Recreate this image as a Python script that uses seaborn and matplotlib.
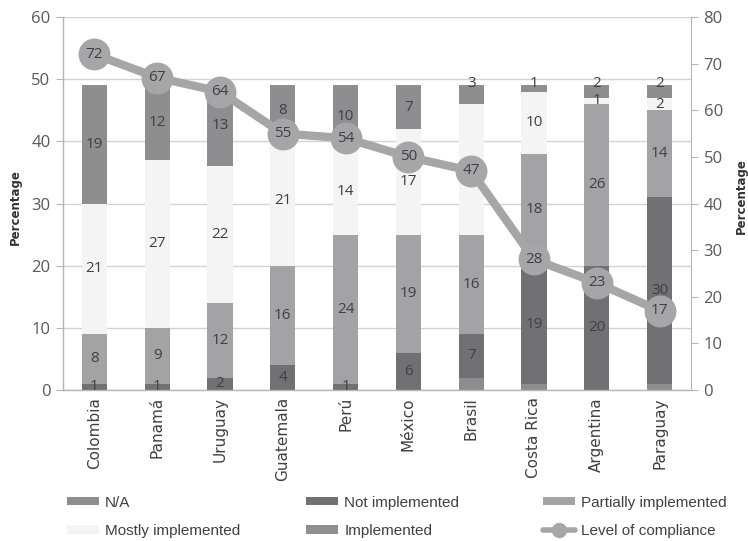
import numpy as np
import pandas as pd
import matplotlib
matplotlib.use("Agg")
import matplotlib.pyplot as plt
from matplotlib.patches import Patch
from matplotlib.lines import Line2D
import seaborn as sns

countries = ["Colombia", "Panamá", "Uruguay", "Guatemala", "Perú",
             "México", "Brasil", "Costa Rica", "Argentina", "Paraguay"]
na = [0, 0, 0, 0, 0, 0, 2, 1, 0, 1]
not_impl = [1, 1, 2, 4, 1, 6, 7, 19, 20, 30]
partial = [8, 9, 12, 16, 24, 19, 16, 18, 26, 14]
mostly = [21, 27, 22, 21, 14, 17, 21, 10, 1, 2]
impl = [19, 12, 13, 8, 10, 7, 3, 1, 2, 2]
compliance = [72, 67, 64, 55, 54, 50, 47, 28, 23, 17]

series_names = ["N/A", "Not implemented", "Partially implemented",
                "Mostly implemented", "Implemented"]
series_vals = [na, not_impl, partial, mostly, impl]
colors = ["#8d8d90", "#717174", "#a3a3a6", "#f4f4f4", "#8e8e91"]
line_color = "#a6a6a9"
text_color = "#404040"
num_font = "Open Sans"

sns.set_style("white")
plt.rcParams["font.family"] = ["DejaVu Sans"]

fig = plt.figure(figsize=(7.48, 5.41), dpi=100)
ax = fig.add_axes([0.0842, 0.279, 0.8396, 0.6896])

# stacked bars: draw cumulative totals from the top layer down
stack = np.cumsum(np.array(series_vals), axis=0)
for k in range(len(series_vals) - 1, -1, -1):
    df = pd.DataFrame({"country": countries, "value": stack[k]})
    sns.barplot(data=df, x="country", y="value", color=colors[k],
                saturation=1, width=0.4, linewidth=0, ax=ax, zorder=2)

# segment labels (N/A not labelled)
for k in range(1, len(series_vals)):
    for i, v in enumerate(series_vals[k]):
        if v == 0:
            continue
        lo = stack[k][i] - v
        y = lo + v / 2
        if k == len(series_vals) - 1 and v <= 3:
            y = stack[k][i] + 0.3
        ax.text(i, y, str(v), ha="center", va="center", fontsize=11,
                color=text_color, family=num_font, zorder=3)

ax.set_ylim(0, 60)
ax.set_xlim(-0.5, len(countries) - 0.5)
ax.set_yticks(range(0, 61, 10))
ax.yaxis.grid(True, color="#d3d3d3", linewidth=1)
ax.set_axisbelow(True)
ax.set_xlabel("")
ax.set_ylabel("Percentage", fontsize=8.5, fontweight="bold", color="#333333")
ax.yaxis.set_label_coords(-0.066, 0.49)

for s in ["top", "right"]:
    ax.spines[s].set_visible(False)
for s in ["left", "bottom"]:
    ax.spines[s].set_color("#b5b5b5")
    ax.spines[s].set_linewidth(1)

ax.tick_params(axis="y", length=5, color="#b5b5b5", labelsize=12,
               labelcolor="#595959", pad=4)
for lab in ax.get_yticklabels():
    lab.set_family(num_font)
ax.tick_params(axis="x", which="major", length=0, labelsize=11,
               labelcolor=text_color, pad=5, labelrotation=90)
ax.set_xticks(np.arange(len(countries) + 1) - 0.5, minor=True)
ax.tick_params(axis="x", which="minor", length=5, color="#b5b5b5")

# compliance line on the secondary axis
ax2 = ax.twinx()
sns.lineplot(x=countries, y=compliance, ax=ax2, color=line_color,
             linewidth=6, marker="o", markersize=23, markeredgewidth=0,
             sort=False, zorder=4)
for i, v in enumerate(compliance):
    ax2.text(i, v, str(v), ha="center", va="center", fontsize=11,
             color=text_color, family=num_font, zorder=5)
ax2.set_ylim(0, 80)
ax2.set_yticks(range(0, 81, 10))
ax2.set_xlim(-0.5, len(countries) - 0.5)
ax2.set_ylabel("Percentage", fontsize=8.5, fontweight="bold", color="#333333")
ax2.yaxis.set_label_coords(1.07, 0.52)
for s in ["top", "left", "bottom"]:
    ax2.spines[s].set_visible(False)
ax2.spines["right"].set_color("#b5b5b5")
ax2.tick_params(axis="y", length=5, color="#b5b5b5", labelsize=12,
                labelcolor="#595959", pad=4)
for lab in ax2.get_yticklabels():
    lab.set_family(num_font)
ax2.grid(False)

# legend: three columns of two rows
bar_handles = [Patch(facecolor=c, edgecolor="none") for c in colors]
line_handle = Line2D([], [], color=line_color, linewidth=4, marker="o",
                     markersize=11, markeredgewidth=0)
columns = [
    ([bar_handles[0], bar_handles[3]], [series_names[0], series_names[3]], 0.0896),
    ([bar_handles[1], bar_handles[4]], [series_names[1], series_names[4]], 0.409),
    ([bar_handles[2], line_handle], [series_names[2], "Level of compliance"], 0.726),
]
for handles, labels, x0 in columns:
    fig.legend(handles, labels, loc="upper left", bbox_to_anchor=(x0, 0.084),
               frameon=False, borderpad=0, borderaxespad=0,
               prop={"family": "Liberation Sans", "size": 11},
               handlelength=2.1, handleheight=0.5, handletextpad=0.4,
               labelspacing=0.95, labelcolor=text_color)

fig.savefig("out.png", dpi=100)
